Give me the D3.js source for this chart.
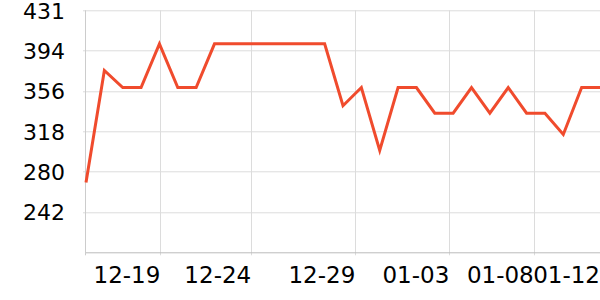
<!DOCTYPE html>
<html>
<head>
<meta charset="utf-8">
<script src="https://cdn.jsdelivr.net/npm/d3@7"></script>
<style>
  html, body { margin: 0; padding: 0; background: #fff; }
  svg { display: block; font-family: "DejaVu Sans", sans-serif; }
</style>
</head>
<body>
<div id="chart"></div>
<script>
// dates, one point per day
var dates = ['12-15', '12-16', '12-17', '12-18', '12-19', '12-20', '12-21', '12-22', '12-23', '12-24',
	'12-25', '12-26', '12-27', '12-28', '12-29', '12-30', '12-31', '01-01', '01-02', '01-03',
	'01-04', '01-05', '01-06', '01-07', '01-08', '01-09', '01-10', '01-11', '01-12'];
var values = [270, 375, 359, 359, 400, 359, 359, 400, 400, 400,
	400, 400, 400, 400, 342, 359, 300, 359, 359, 335,
	335, 359, 335, 359, 335, 335, 315, 359, 359];

// y axis ticks (shown rounded)
var yTicks = [242.4, 280.2, 318, 355.8, 393.6, 431.4];
var yMin = 204.6, yMax = 431.4;

// x axis labels and where they sit (in day index)
var xTickLabels = ['12-19', '12-24', '12-29', '01-03', '01-08', '01-12'];
var xTickAt = [4.05, 9, 14.67, 19.79, 24.39, 28];

var W = 600, H = 300;
var m = { top: 10.3, right: 0, bottom: 47.7, left: 86 };
var w = W - m.left - m.right, h = H - m.top - m.bottom;

var svg = d3.select('#chart').append('svg').attr('width', W).attr('height', H);
var g = svg.append('g').attr('transform', 'translate(' + m.left + ',' + m.top + ')');

var x = d3.scalePoint().domain(dates).range([0, w]);
var xi = d3.scaleLinear().domain([0, dates.length - 1]).range([0, w]);
var y = d3.scaleLinear().domain([yMin, yMax]).range([h, 0]);

// grid
g.append('g').selectAll('line').data(yTicks).join('line')
	.attr('x1', -3).attr('x2', w)
	.attr('y1', d => Math.round(y(d)) + 0.5).attr('y2', d => Math.round(y(d)) + 0.5)
	.attr('stroke', '#dcdcdc').attr('stroke-width', 1);
g.append('g').selectAll('line').data(xTickAt.slice(0, -1)).join('line')
	.attr('x1', d => Math.round(xi(d)) + 0.5).attr('x2', d => Math.round(xi(d)) + 0.5)
	.attr('y1', 0).attr('y2', h + 3)
	.attr('stroke', '#dcdcdc').attr('stroke-width', 1);

// axes lines
g.append('line').attr('x1', -0.5).attr('x2', -0.5).attr('y1', 0).attr('y2', h + 3)
	.attr('stroke', '#cccccc');
g.append('line').attr('x1', 0).attr('x2', w).attr('y1', h + 0.5).attr('y2', h + 0.5)
	.attr('stroke', '#bbbbbb');

// y labels
var fmt = d3.format('.0f');
g.append('g').selectAll('text').data(yTicks).join('text')
	.attr('x', -21).attr('y', d => y(d) + 1)
	.attr('text-anchor', 'end').attr('dominant-baseline', 'central')
	.attr('font-size', 22).attr('fill', '#000')
	.text(d => fmt(d));

// x labels
g.append('g').selectAll('text').data(xTickLabels).join('text')
	.attr('x', (d, i) => xi(xTickAt[i]))
	.attr('y', h + 30.5)
	.attr('text-anchor', 'end')
	.attr('font-size', 23).attr('fill', '#000')
	.text(d => d);

// line
var line = d3.line().x((d, i) => x(dates[i])).y(d => y(d));
g.append('path').datum(values)
	.attr('d', line)
	.attr('fill', 'none')
	.attr('stroke', '#f04b2d')
	.attr('stroke-width', 3)
	.attr('stroke-linejoin', 'miter');
</script>
</body>
</html>
